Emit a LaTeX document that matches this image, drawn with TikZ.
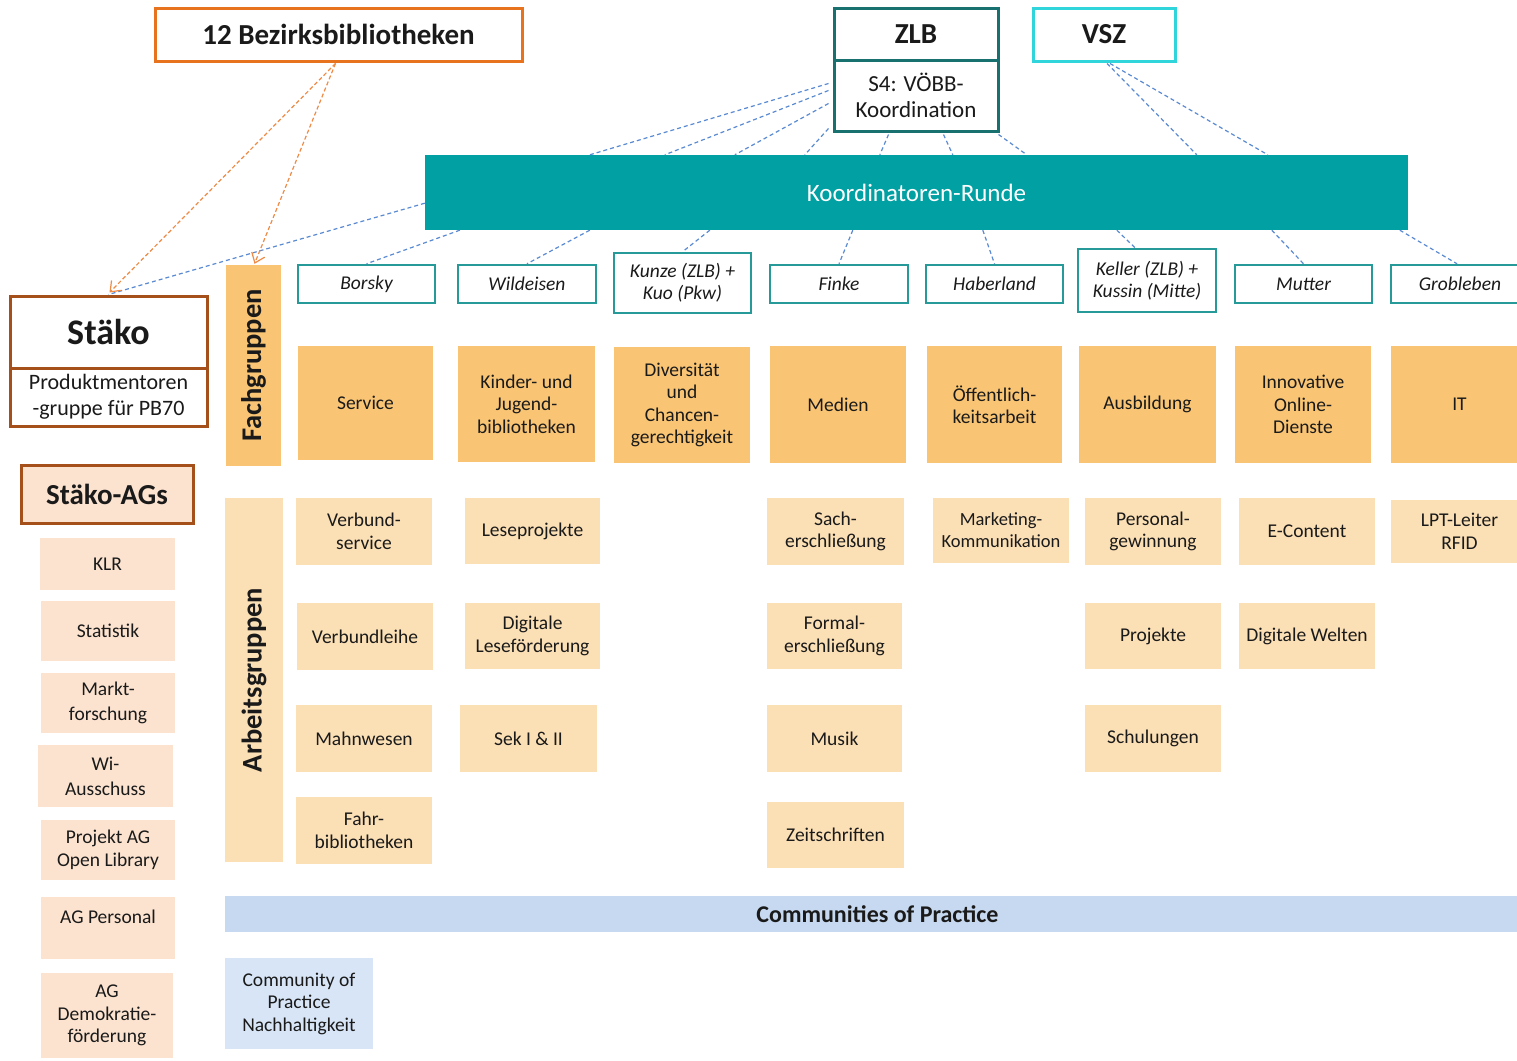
\documentclass[tikz,border=0pt]{standalone}
\usepackage{fontspec}
\setmainfont{Carlito}
\usetikzlibrary{arrows.meta,calc}
\definecolor{krteal}{HTML}{00A0A3}
\definecolor{zlbteal}{HTML}{18716F}
\definecolor{nameteal}{HTML}{259A98}
\definecolor{vszcyan}{HTML}{2FD5DA}
\definecolor{bezorange}{HTML}{E8731E}
\definecolor{stbrown}{HTML}{A5501A}
\definecolor{fgfill}{HTML}{F9C574}
\definecolor{agfill}{HTML}{FBDFB5}
\definecolor{stfill}{HTML}{FCE3D0}
\definecolor{copbar}{HTML}{C7D9F0}
\definecolor{copcell}{HTML}{D7E5F6}
\definecolor{bluedash}{HTML}{5A8AD2}
\definecolor{orangedash}{HTML}{EE8B46}
\definecolor{txt}{HTML}{1A1A1A}
\newcommand{\bx}[7]{\node[#6,minimum width={#4-#2},minimum height={#5-#3}] (#1) at ({(#2+#4)/2},{(#3+#5)/2}) {#7};}
\begin{document}
\begin{tikzpicture}[x=1pt,y=-1pt,
  box/.style={inner sep=1pt,align=center,text=txt,font=\fontsize{19.5}{22.5}\selectfont},
  namebox/.style={box,draw=nameteal,line width=2.5pt,fill=white,font=\fontsize{19.5}{22}\selectfont\itshape},
  fgcell/.style={box,fill=fgfill},
  agcell/.style={box,fill=agfill},
  stcell/.style={box,fill=stfill},
  bluelink/.style={draw=bluedash,line width=1.2pt,dash pattern=on 4pt off 3pt},
  orangelink/.style={draw=orangedash,line width=1.2pt,dash pattern=on 4pt off 2.5pt,-{Straight Barb[length=9pt,width=14pt,line width=1.2pt]}},
  sidebar/.style={rotate=90,inner sep=0pt,text=txt,font=\fontsize{28.5}{30}\selectfont\bfseries}
]
\useasboundingbox (0,0) rectangle (1517,1060);
\clip (0,0) rectangle (1517,1060);
\fill[white] (0,0) rectangle (1517,1060);

% top boxes
\bx{bez}{155}{8}{522}{61}{box,draw=bezorange,line width=3pt,fill=white,font=\fontsize{29}{32}\selectfont\bfseries}{12 Bezirksbibliotheken}
\bx{zlb}{834}{8}{998}{60}{box,draw=zlbteal,line width=3pt,fill=white,font=\fontsize{29}{32}\selectfont\bfseries}{ZLB}
\bx{s4}{834}{60}{998}{131}{box,draw=zlbteal,line width=3pt,fill=white,font=\fontsize{23}{26}\selectfont}{S4: VÖBB-\\Koordination}
\bx{vsz}{1033}{8}{1175}{61}{box,draw=vszcyan,line width=3pt,fill=white,font=\fontsize{29}{32}\selectfont\bfseries}{VSZ}
\bx{kr}{425}{155}{1408}{230}{box,fill=krteal,text=white,font=\fontsize{25}{28}\selectfont}{Koordinatoren-Runde}

% Staeko
\bx{stako}{10}{296}{207}{368}{box,draw=stbrown,line width=3pt,fill=white,font=\fontsize{36}{38}\selectfont\bfseries}{Stäko}
\bx{pm}{10}{368}{207}{426}{box,draw=stbrown,line width=3pt,fill=white,font=\fontsize{22}{26}\selectfont}{Produktmentoren\\-gruppe für PB70}
\bx{stags}{21}{465}{193}{523}{box,draw=stbrown,line width=3pt,fill=stfill,font=\fontsize{29}{32}\selectfont\bfseries}{Stäko-AGs}
\bx{klr}{40}{538}{175}{590}{stcell}{KLR}
\bx{stat}{41}{601}{175}{661}{stcell}{Statistik}
\bx{markt}{41}{673}{175}{733}{stcell,font=\fontsize{19.5}{25}\selectfont}{Markt-\\forschung}
\bx{wi}{38}{745}{173}{807}{stcell,font=\fontsize{19.5}{25}\selectfont}{Wi-\\Ausschuss}
\bx{open}{41}{820}{175}{880}{stcell}{Projekt AG\\Open Library}
\bx{agp}{41}{897}{175}{959}{stcell}{AG Personal\\~}
\bx{demo}{41}{973}{173}{1058}{stcell}{AG\\Demokratie-\\förderung}

% side bars
\node[sidebar,fill=fgfill,minimum width=201,minimum height=55] (fach) at (253.5,365.5) {Fachgruppen};
\node[sidebar,fill=agfill,minimum width=364,minimum height=58] (arb) at (254,680) {Arbeitsgruppen};

% name boxes
\bx{borsky}{298}{265}{435}{303}{namebox}{Borsky}
\bx{wild}{458}{265}{596}{303}{namebox}{Wildeisen}
\bx{kunze}{614}{253}{751}{313}{namebox}{Kunze (ZLB) +\\Kuo (Pkw)}
\bx{finke}{770}{265}{908}{303}{namebox}{Finke}
\bx{haber}{926}{265}{1063}{303}{namebox}{Haberland}
\bx{keller}{1078}{249}{1216}{312}{namebox}{Keller (ZLB) +\\Kussin (Mitte)}
\bx{mutter}{1235}{265}{1372}{303}{namebox}{Mutter}
\bx{grob}{1391}{265}{1529}{303}{namebox}{Grobleben}

% Fachgruppen cells
\bx{service}{298}{346}{433}{460}{fgcell}{Service}
\bx{kinder}{458}{346}{595}{462}{fgcell}{Kinder- und\\Jugend-\\bibliotheken}
\bx{divers}{614}{347}{750}{463}{fgcell}{Diversität\\und\\Chancen-\\gerechtigkeit}
\bx{medien}{770}{346}{906}{463}{fgcell}{Medien}
\bx{oeff}{927}{346}{1062}{463}{fgcell}{Öffentlich-\\keitsarbeit}
\bx{ausb}{1079}{346}{1216}{463}{fgcell}{Ausbildung}
\bx{innov}{1235}{346}{1371}{463}{fgcell}{Innovative\\Online-\\Dienste}
\bx{it}{1391}{346}{1528}{463}{fgcell}{IT}

% Arbeitsgruppen cells
\bx{verbs}{296}{498}{432}{565}{agcell}{Verbund-\\service}
\bx{lese}{465}{498}{600}{564}{agcell}{Leseprojekte}
\bx{sach}{767}{498}{904}{565}{agcell}{Sach-\\erschließung}
\bx{mark}{933}{498}{1069}{563}{agcell,font=\fontsize{18.5}{22}\selectfont}{Marketing-\\Kommunikation}
\bx{pers}{1085}{498}{1221}{565}{agcell}{Personal-\\gewinnung}
\bx{econ}{1239}{498}{1375}{565}{agcell}{E-Content}
\bx{lpt}{1391}{500}{1528}{563}{agcell}{LPT-Leiter\\RFID}
\bx{verbl}{297}{603}{433}{670}{agcell}{Verbundleihe}
\bx{diglese}{465}{603}{600}{669}{agcell}{Digitale\\Leseförderung}
\bx{formal}{767}{603}{902}{669}{agcell}{Formal-\\erschließung}
\bx{proj}{1085}{603}{1221}{669}{agcell}{Projekte}
\bx{digwelt}{1239}{603}{1375}{669}{agcell}{Digitale Welten}
\bx{mahn}{296}{705}{432}{772}{agcell}{Mahnwesen}
\bx{sek}{460}{705}{597}{772}{agcell}{Sek I \& II}
\bx{musik}{767}{705}{902}{772}{agcell}{Musik}
\bx{schul}{1085}{705}{1221}{772}{agcell}{Schulungen}
\bx{fahr}{296}{797}{432}{864}{agcell}{Fahr-\\bibliotheken}
\bx{zeit}{767}{802}{904}{868}{agcell}{Zeitschriften}

% Communities
\bx{cop}{225}{896}{1530}{932}{box,fill=copbar,font=\fontsize{24}{26}\selectfont\bfseries}{Communities of Practice}
\bx{nach}{225}{958}{373}{1049}{box,fill=copcell}{Community of\\Practice\\Nachhaltigkeit}

% blue dashed links ZLB -> Koordinatoren-Runde
\draw[bluelink] ($(s4.north west)+(-4,25)$) -- ($(kr.north west)+(165,0)$);
\draw[bluelink] ($(s4.north west)+(-4,32)$) -- ($(kr.north west)+(240,0)$);
\draw[bluelink] ($(s4.north west)+(-4,45)$) -- ($(kr.north west)+(310,0)$);
\draw[bluelink] ($(s4.north west)+(-4,70)$) -- ($(kr.north west)+(380,0)$);
\draw[bluelink] ($(s4.south west)+(56,2)$) -- ($(kr.north west)+(455,0)$);
\draw[bluelink] ($(s4.south west)+(111,2)$) -- ($(kr.north west)+(528,0)$);
\draw[bluelink] ($(s4.south west)+(166,2)$) -- ($(kr.north west)+(602,0)$);
% VSZ -> Koordinatoren-Runde
\draw[bluelink] ($(vsz.south)+(3,1)$) -- ($(kr.north west)+(772,0)$);
\draw[bluelink] ($(vsz.south)+(6,1)$) -- ($(kr.north west)+(843,0)$);
% Koordinatoren-Runde -> names
\draw[bluelink] ($(kr.south west)+(0,-27)$) -- (stako.north);
\draw[bluelink] ($(kr.south west)+(35,0)$) -- (borsky.north);
\draw[bluelink] ($(kr.south west)+(165,0)$) -- (wild.north);
\draw[bluelink] ($(kr.south west)+(285,0)$) -- (kunze.north);
\draw[bluelink] ($(kr.south west)+(428,0)$) -- (finke.north);
\draw[bluelink] ($(kr.south west)+(558,0)$) -- (haber.north);
\draw[bluelink] ($(kr.south west)+(692,0)$) -- ($(keller.north)+(-12,0)$);
\draw[bluelink] ($(kr.south west)+(847,0)$) -- (mutter.north);
\draw[bluelink] ($(kr.south west)+(975,0)$) -- ($(grob.north)+(-3,0)$);

% orange arrows
\draw[orangelink] ($(bez.south)+(-3,1)$) -- ($(stako.north)+(1,-2)$);
\draw[orangelink] ($(bez.south)+(-3,1)$) -- ($(fach.east)+(1,-1)$);
\end{tikzpicture}
\end{document}
